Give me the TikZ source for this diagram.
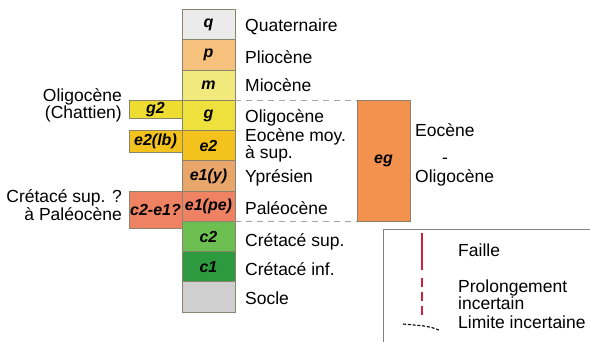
\documentclass[tikz,border=0pt]{standalone}
\usepackage{fontspec}
\setmainfont{Liberation Sans}
\usetikzlibrary{positioning}
\definecolor{stQ}{HTML}{EBEBEB}
\definecolor{stP}{HTML}{F5C17C}
\definecolor{stM}{HTML}{F2E97C}
\definecolor{stG}{HTML}{EEE13E}
\definecolor{stGdeux}{HTML}{EEDD30}
\definecolor{stEdeux}{HTML}{F4C21C}
\definecolor{stY}{HTML}{E9A66B}
\definecolor{stPe}{HTML}{EE8262}
\definecolor{stCdeux}{HTML}{6EBF52}
\definecolor{stCun}{HTML}{2E9A40}
\definecolor{stSocle}{HTML}{CFCFCF}
\definecolor{stEg}{HTML}{F3924F}
\definecolor{bordGris}{HTML}{8A836E}
\definecolor{failleRouge}{HTML}{D0203C}
\tikzset{
  couche/.style={rectangle, draw=bordGris, line width=0.8pt, minimum width=53pt,
                 minimum height=30.25pt, inner sep=0pt, outer sep=0pt,
                 font=\fontsize{16}{16}\selectfont\bfseries\itshape},
  lbl/.style={anchor=base west, inner sep=0pt, font=\fontsize{17.5}{13}\selectfont},
  lblG/.style={anchor=base east, inner sep=0pt, align=right,
               font=\fontsize{17.5}{15.5}\selectfont},
  tiret/.style={draw=gray!70, line width=0.9pt, dash pattern=on 6pt off 5pt},
  cadre/.style={draw=gray, line width=0.8pt},
  faille/.style={draw=failleRouge, line width=2.4pt},
  failleInc/.style={faille, dash pattern=on 9pt off 5pt},
  limInc/.style={draw=black, line width=1.1pt, dash pattern=on 3pt off 1.8pt},
}

\begin{document}
\begin{tikzpicture}[x=1pt, y=-1pt, node distance=0pt]
    \useasboundingbox (0,0) rectangle (590,342);
    % colonne principale
    \node[couche, fill=stQ] (q) at (208.5,24.75) {q};
    \node[couche, fill=stP, below=of q] (p) {p};
    \node[couche, fill=stM, below=of p] (m) {m};
    \node[couche, fill=stG, below=of m] (g) {g};
    \node[couche, fill=stEdeux, below=of g] (e2) {e2};
    \node[couche, fill=stY, below=of e2] (e1y) {e1(y)};
    \node[couche, fill=stPe, below=of e1y] (e1pe) {e1(pe)};
    \node[couche, fill=stCdeux, below=of e1pe] (c2) {c2};
    \node[couche, fill=stCun, below=of c2] (c1) {c1};
    \node[couche, fill=stSocle, below=of c1] (socle) {};
    % equivalents lateraux
    \node[couche, fill=stGdeux, minimum height=18pt, anchor=north east] (g2) at (g.north west) {g2};
    \node[couche, fill=stEdeux, minimum height=22pt, anchor=north east] (e2lb) at (e2.north west) {e2(lb)};
    \node[couche, fill=stPe, minimum height=37.6pt, anchor=north east] (c2e1) at (e1pe.north west) {c2-e1?};
    \node[couche, fill=stEg, minimum height=121.2pt, anchor=north west] (eg) at ([xshift=122pt]g.north east) {eg};
    \draw[tiret] (g.north east) -- (eg.north west);
    \draw[tiret] (e1pe.south east) -- (eg.south west);
    % legendes
    \node[lbl] (lq) at (245,31.5) {Quaternaire};
    \node[lbl] (lp) at (245,64) {Pliocène};
    \node[lbl] (lm) at (245,91.5) {Miocène};
    \node[lbl] (lg) at (245,123) {Oligocène};
    \node[lbl, align=left] (le2) at (245,159) {Eocène moy.\\à sup.};
    \node[lbl] (ly) at (245,183) {Yprésien};
    \node[lbl] (lpe) at (245,215) {Paléocène};
    \node[lbl] (lc2) at (245,246.5) {Crétacé sup.};
    \node[lbl] (lc1) at (245,276) {Crétacé inf.};
    \node[lbl] (lso) at (245,305) {Socle};
    \node[lblG] (lg2) at (122,119) {Oligocène\\(Chattien)};
    \node[lblG] (lc2e1) at (122,220.5) {Crétacé sup. ?\\à Paléocène};
    \node[lbl] (leo) at (415,136.7) {Eocène};
    \node[lbl] (ltiret) at (442,164) {-};
    \node[lbl] (lol) at (415,183) {Oligocène};
    % cartouche
    \coordinate (cadreA) at (590,229.3);
    \coordinate (cadreB) at (383,342);
    \draw[cadre] (cadreA) -| (cadreB);
    \coordinate (fA) at (421.7,232.7);
    \coordinate (fB) at (421.7,270);
    \coordinate (fC) at (421.7,278);
    \coordinate (fD) at (421.7,319);
    \draw[faille] (fA) -- (fB);
    \draw[failleInc] (fC) -- (fD);
    \coordinate (lA) at (403,324);
    \coordinate (lB) at (440,330.5);
    \draw[limInc] (lA) .. controls (416,325.5) and (428,325) .. (lB);
    \node[lbl] (lfa) at (458,256.7) {Faille};
    \node[lbl, align=left, font=\fontsize{17.5}{16}\selectfont] (lpr) at (458,310) {Prolongement\\incertain};
    \node[lbl] (lli) at (458,329) {Limite incertaine};
\end{tikzpicture}
\end{document}
